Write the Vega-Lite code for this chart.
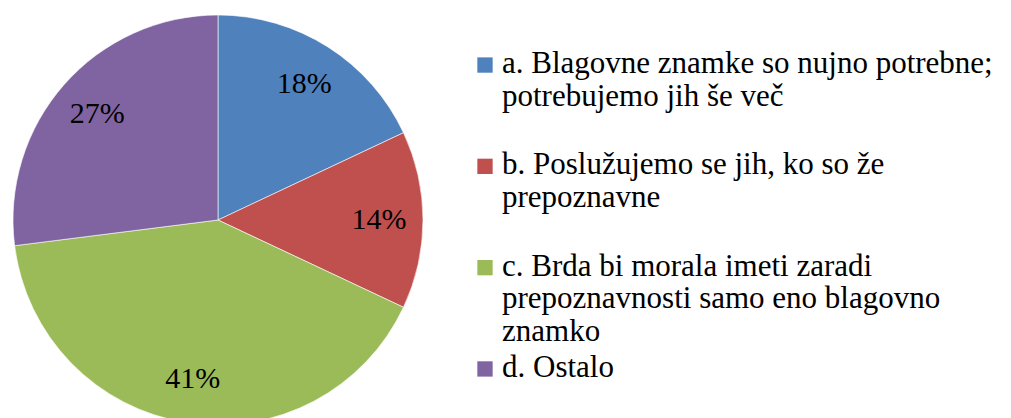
{
  "$schema": "https://vega.github.io/schema/vega-lite/v6.json",
  "padding": 0,
  "spacing": 0,
  "background": "white",
  "config": {"view": {"stroke": null}},
  "data": {
    "values": [
      {"cat": "a. Blagovne znamke so nujno potrebne;\npotrebujemo jih še več", "pct": 18, "label": "18%", "ord": 1},
      {"cat": "b. Poslužujemo se jih, ko so že\nprepoznavne", "pct": 14, "label": "14%", "ord": 2},
      {"cat": "c. Brda bi morala imeti zaradi\nprepoznavnosti samo eno blagovno\nznamko", "pct": 41, "label": "41%", "ord": 3},
      {"cat": "d. Ostalo", "pct": 27, "label": "27%", "ord": 4}
    ]
  },
  "hconcat": [
    {
      "width": 436,
      "height": 440,
      "encoding": {
        "theta": {"field": "pct", "type": "quantitative", "stack": true},
        "order": {"field": "ord", "type": "quantitative"}
      },
      "layer": [
        {
          "mark": {"type": "arc", "outerRadius": 205, "stroke": "white", "strokeWidth": 0.6},
          "encoding": {
            "color": {
              "field": "cat",
              "type": "nominal",
              "scale": {
                "domain": [
                  "a. Blagovne znamke so nujno potrebne;\npotrebujemo jih še več",
                  "b. Poslužujemo se jih, ko so že\nprepoznavne",
                  "c. Brda bi morala imeti zaradi\nprepoznavnosti samo eno blagovno\nznamko",
                  "d. Ostalo"
                ],
                "range": ["#4F81BD", "#C0504D", "#9BBB59", "#8064A2"]
              },
              "legend": null
            }
          }
        },
        {
          "mark": {"type": "text", "radius": 161, "font": "Liberation Serif", "fontSize": 30, "color": "black"},
          "encoding": {"text": {"field": "label", "type": "nominal"}}
        }
      ]
    },
    {
      "width": 575,
      "height": 434,
      "encoding": {
        "y": {"field": "cat", "type": "nominal", "sort": null, "axis": null, "scale": {"type": "point", "padding": 0.642}}
      },
      "layer": [
        {
          "mark": {"type": "square", "size": 235, "filled": true, "opacity": 1, "strokeWidth": 0},
          "encoding": {
            "x": {"datum": 49, "type": "quantitative", "scale": {"domain": [0, 575], "nice": false, "zero": false}, "axis": null},
            "color": {"field": "cat", "type": "nominal", "legend": null}
          }
        },
        {
          "mark": {"type": "text", "align": "left", "baseline": "alphabetic", "dy": 8, "lineBreak": "\n", "lineHeight": 32.5, "font": "Liberation Serif", "fontSize": 31, "color": "black"},
          "encoding": {
            "x": {"datum": 66, "type": "quantitative", "axis": null},
            "text": {"field": "cat", "type": "nominal"}
          }
        }
      ]
    }
  ]
}
